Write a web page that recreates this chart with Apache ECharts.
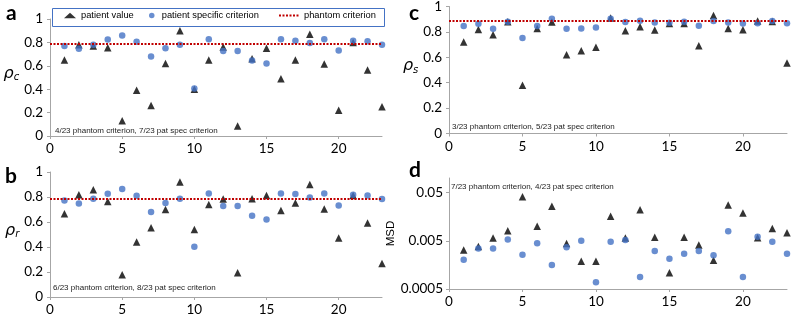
<!DOCTYPE html>
<html><head><meta charset="utf-8">
<script src="https://cdn.jsdelivr.net/npm/echarts@6/dist/echarts.min.js"></script>
<style>html,body{margin:0;padding:0;background:#fff}#c{width:794px;height:316px}</style>
</head><body><div id="c"></div>
<script>
// ---------- data ----------
const patientIds = [1,2,3,4,5,6,7,8,9,10,11,12,13,14,15,16,17,18,19,20,21,22,23];
const xTickLabels = [0,5,10,15,20];
const rhoTickLabels = [0,0.2,0.4,0.6,0.8,1];
const msdTickLabels = [0.0005,0.005,0.05];

// panel a: rho_c
const rhoC_patient = [0.65,0.78,0.77,0.755,0.13,0.39,0.26,0.62,0.90,0.40,0.65,0.76,0.085,0.66,0.75,0.49,0.65,0.87,0.615,0.22,0.80,0.565,0.25];
const rhoC_specific = [0.77,0.745,0.78,0.825,0.86,0.805,0.68,0.75,0.78,0.405,0.827,0.726,0.726,0.645,0.62,0.827,0.815,0.795,0.826,0.731,0.815,0.81,0.78];
const rhoC_phantom = 0.785;

// panel b: rho_r
const rhoR_patient = [0.667,0.819,0.859,0.765,0.179,0.44,0.555,0.70,0.92,0.541,0.741,0.784,0.195,0.787,0.813,0.693,0.752,0.901,0.704,0.472,0.813,0.592,0.269];
const rhoR_specific = [0.773,0.749,0.787,0.827,0.864,0.81,0.68,0.752,0.787,0.403,0.829,0.728,0.728,0.651,0.621,0.829,0.824,0.797,0.829,0.733,0.819,0.813,0.784];
const rhoR_phantom = 0.79;

// panel c: rho_s
const rhoS_patient = [0.72,0.819,0.777,0.88,0.38,0.827,0.877,0.62,0.652,0.68,0.91,0.81,0.84,0.814,0.866,0.866,0.69,0.93,0.827,0.817,0.885,0.882,0.555];
const rhoS_specific = [0.846,0.864,0.825,0.88,0.751,0.846,0.903,0.825,0.827,0.835,0.903,0.877,0.887,0.874,0.872,0.88,0.848,0.885,0.874,0.866,0.869,0.885,0.869];
const rhoS_phantom = 0.885;

// panel d: MSD (log scale)
const msd_patient = [0.0032,0.0038,0.0057,0.0081,0.041,0.00995,0.026,0.0044,0.00188,0.00188,0.0161,0.0057,0.0221,0.0059,0.00108,0.0059,0.0041,0.00198,0.0277,0.0188,0.0058,0.0090,0.0073];
const msd_specific = [0.00201,0.00346,0.00346,0.00533,0.00255,0.00446,0.00158,0.00369,0.0050,0.00069,0.00477,0.00516,0.00089,0.00305,0.00211,0.00268,0.00305,0.00251,0.0079,0.00089,0.00605,0.00477,0.00268];
const msd_phantom = 0.00426;

const annotations = [
  '4/23 phantom criterion, 7/23 pat spec criterion',
  '6/23 phantom criterion, 8/23 pat spec criterion',
  '3/23 phantom criterion, 5/23 pat spec criterion',
  '7/23 phantom criterion, 4/23 pat spec criterion'
];
const seriesNames = ['patient value','patient specific criterion','phantom criterion'];

// ---------- styles ----------
const TICK_FONT = 'Lato';
const SMALL_FONT = 'Liberation Sans';
const AX_COLOR = '#a6a6a6';
const BLUE = '#4472C4';
const RED = '#c00000';
const pairs = arr => arr.map((v,i)=>[patientIds[i], v]);

const grids = [
  {left:50, top:19, width:332, height:117},
  {left:50, top:172, width:332, height:125},
  {left:449, top:6.5, width:338, height:127},
  {left:449, top:178, width:338, height:111}
].map(g => Object.assign({outerBoundsMode:'none', containLabel:false}, g));

const xAxes = grids.map((g,i)=>({
  type:'value', gridIndex:i, min:0, max:23, interval:5,
  axisLine:{show:true, lineStyle:{color:AX_COLOR, width:1}},
  axisTick:{show:true, length:3, lineStyle:{color:AX_COLOR}, customValues: xTickLabels},
  splitLine:{show:false},
  axisLabel:{color:'#000', fontFamily:TICK_FONT, fontSize:13.5, margin:6, customValues: xTickLabels}
}));

function rhoName(sub){ return '{r|ρ}{s|'+sub+'}'; }
const rich = {r:{fontFamily:'DejaVu Sans', fontStyle:'italic', fontSize:16, color:'#000'},
              s:{fontFamily:'DejaVu Sans', fontStyle:'italic', fontSize:10, color:'#000', padding:[8,0,0,0]}};

const baseY = (i, name) => ({
  type:'value', gridIndex:i, min:0, max:1, interval:0.2,
  axisLine:{show:true, lineStyle:{color:AX_COLOR}},
  axisTick:{show:true, length:3, lineStyle:{color:AX_COLOR}, customValues: rhoTickLabels},
  splitLine:{show:false},
  axisLabel:{color:'#000', fontFamily:TICK_FONT, fontSize:13.5, margin:7, customValues: rhoTickLabels},
  name: name, nameLocation:'middle', nameRotate:0, nameGap:30,
  nameTextStyle:{rich:rich, padding:[0,0,8,0]}
});
const yAxes = [
  baseY(0, rhoName('c')),
  baseY(1, rhoName('r')),
  baseY(2, rhoName('s')),
  {
    type:'log', logBase:10, gridIndex:3, min:0.0005, max:0.1,
    axisLine:{show:true, lineStyle:{color:AX_COLOR}},
    axisTick:{show:true, length:3, lineStyle:{color:AX_COLOR}, customValues: msdTickLabels},
    splitLine:{show:false},
    axisLabel:{color:'#000', fontFamily:TICK_FONT, fontSize:13.5, margin:6,
      customValues: msdTickLabels, formatter: v => String(+(+v).toPrecision(3))},
    name:'MSD', nameLocation:'middle', nameRotate:90, nameGap:37,
    nameTextStyle:{fontFamily:SMALL_FONT, fontSize:11.5, color:'#000'}
  }
];

const panels = [
  [rhoC_patient, rhoC_specific, rhoC_phantom],
  [rhoR_patient, rhoR_specific, rhoR_phantom],
  [rhoS_patient, rhoS_specific, rhoS_phantom],
  [msd_patient, msd_specific, msd_phantom]
];
const series = [];
panels.forEach((p,i)=>{
  series.push({
    name:seriesNames[2], type:'line', xAxisIndex:i, yAxisIndex:i, data:[], symbol:'none',
    lineStyle:{color:RED, width:2, type:[2,1.5]}, itemStyle:{color:RED},
    markLine:{silent:true, symbol:['none','none'], label:{show:false},
      lineStyle:{color:RED, width:2, type:[2,1.5]}, emphasis:{disabled:true},
      data:[{yAxis:p[2]}]}, z:1
  });
  series.push({
    name:seriesNames[0], type:'scatter', xAxisIndex:i, yAxisIndex:i,
    data:pairs(p[0]), symbol:'triangle', symbolSize:7.5, itemStyle:{color:'#000'}, z:2
  });
  series.push({
    name:seriesNames[1], type:'scatter', xAxisIndex:i, yAxisIndex:i,
    data:pairs(p[1]), symbol:'circle', symbolSize:6.5, itemStyle:{color:BLUE}, z:3
  });
});

const legTxt = {fontFamily:SMALL_FONT, fontSize:9.3, color:'#000'};
const legends = [
  {left:64, top:11, padding:0, itemWidth:12, itemHeight:5.5, data:[{name:seriesNames[0], icon:'triangle'}], textStyle:legTxt, selectedMode:false},
  {left:149, top:11, padding:0, itemWidth:10, itemHeight:5.5, data:[{name:seriesNames[1], icon:'circle'}], textStyle:legTxt, selectedMode:false},
  {left:278, top:11, padding:0, itemWidth:20, itemHeight:8, data:[{name:seriesNames[2], itemStyle:{opacity:0}}], textStyle:legTxt, selectedMode:false}
];

const annPos = [[55,131],[53,288],[452,127],[451,187]];
const letterPos = [[6,13,'a'],[5,176,'b'],[409,13,'c'],[409,170,'d']];
const graphic = [
  {type:'rect', left:52, top:8, shape:{width:332, height:18}, style:{fill:'#fff', stroke:BLUE, lineWidth:1}, z:-1, silent:true}
];
annotations.forEach((t,i)=>graphic.push({type:'text', x:annPos[i][0], y:annPos[i][1],
  style:{text:t, fontFamily:SMALL_FONT, fontSize:8, fill:'#222', verticalAlign:'middle'}, silent:true}));
letterPos.forEach(l=>graphic.push({type:'text', x:l[0], y:l[1],
  style:{text:l[2], fontFamily:'Lato', fontWeight:'bold', fontSize:21, fill:'#000', verticalAlign:'middle'}, silent:true}));

const chart = echarts.init(document.getElementById('c'), null, {renderer:'canvas'});
chart.setOption({
  animation:false,
  backgroundColor:'#fff',
  grid:grids, xAxis:xAxes, yAxis:yAxes, series:series, legend:legends, graphic:graphic
});
</script></body></html>
